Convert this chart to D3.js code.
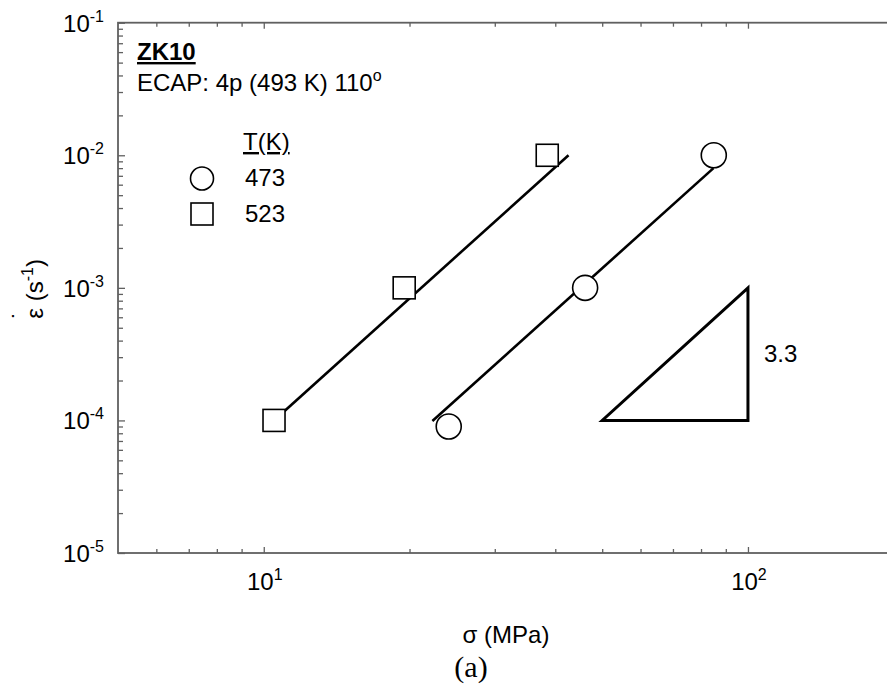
<!DOCTYPE html>
<html>
<head>
<meta charset="utf-8">
<script src="https://cdn.jsdelivr.net/npm/d3@7"></script>
<style>
  body { margin: 0; background: #fff; }
  svg { display: block; font-family: "Liberation Sans", Arial, sans-serif; }
</style>
</head>
<body>
<svg width="887" height="688"></svg>
<script>
// data
const temps = ["473", "523"];
const stress473 = [24.1, 46.1, 85];
const rate473 = [0.9e-4, 1e-3, 1e-2];
const stress523 = [10.5, 19.5, 38.5];
const rate523 = [1e-4, 1e-3, 1e-2];

// fitted lines (end points)
const fitStress473 = [22.3, 84.9];
const fitRate473 = [9.9e-5, 8.0e-3];
const fitStress523 = [10.5, 42.6];
const fitRate523 = [1e-4, 1e-2];

// slope triangle
const triStress = [50, 100, 100];
const triRate = [1e-4, 1e-4, 1e-3];
const slopeLabel = "3.3";

const xMajor = [10, 100];
const xMinor = [6, 7, 8, 9, 20, 30, 40, 50, 60, 70, 80, 90];
const yMajor = [1e-5, 1e-4, 1e-3, 1e-2, 1e-1];
const yExp = ["-5", "-4", "-3", "-2", "-1"];
const xExp = ["1", "2"];

const svg = d3.select("svg");
const axisColor = "#606060";
const fs = 24, sup = 16;

const x = d3.scaleLog().domain([5, 200]).range([118, 118 + 484.2 * Math.log10(40)]);
const y = d3.scaleLog().domain([1e-5, 1e-1]).range([553, 22.7]);

const yMinor = [];
yMajor.slice(0, -1).forEach(d => { for (let k = 2; k <= 9; k++) yMinor.push(d * k); });

// frame
svg.append("rect")
  .attr("x", x.range()[0]).attr("y", y.range()[1])
  .attr("width", x.range()[1] - x.range()[0])
  .attr("height", y.range()[0] - y.range()[1])
  .attr("fill", "none").attr("stroke", axisColor).attr("stroke-width", 1.8);

// ticks (inward)
function ticks(axis, values, size, transform) {
  const g = svg.append("g").attr("transform", transform)
    .call(axis.tickValues(values).tickSize(size).tickFormat(""));
  g.select(".domain").remove();
  g.selectAll("line").attr("stroke", axisColor).attr("stroke-width", 1.3);
}
ticks(d3.axisBottom(x), xMajor, -6, `translate(0,${y.range()[0]})`);
ticks(d3.axisBottom(x), xMinor, -4, `translate(0,${y.range()[0]})`);
ticks(d3.axisTop(x), xMajor, -6, `translate(0,${y.range()[1]})`);
ticks(d3.axisTop(x), xMinor, -4, `translate(0,${y.range()[1]})`);
ticks(d3.axisLeft(y), yMajor, -7, `translate(${x.range()[0]},0)`);
ticks(d3.axisLeft(y), yMinor, -5, `translate(${x.range()[0]},0)`);

// tick labels
const xl = svg.append("g").selectAll("text").data(xMajor).join("text")
  .attr("x", d => x(d) + 1).attr("y", 590)
  .attr("text-anchor", "middle").attr("font-size", fs);
xl.append("tspan").text("10");
xl.append("tspan").attr("dy", -10).attr("font-size", sup).text((d, i) => xExp[i]);

const yl = svg.append("g").selectAll("text").data(yMajor).join("text")
  .attr("x", 104).attr("y", d => y(d) + 9)
  .attr("text-anchor", "end").attr("font-size", fs);
yl.append("tspan").text("10");
yl.append("tspan").attr("dy", -10).attr("font-size", sup).text((d, i) => yExp[i]);

// axis titles
svg.append("text").attr("x", 506).attr("y", 643)
  .attr("text-anchor", "middle").attr("font-size", fs).text("σ (MPa)");

const yt = svg.append("text")
  .attr("transform", "translate(43,289) rotate(-90)")
  .attr("text-anchor", "middle").attr("font-size", fs);
yt.append("tspan").text("ε");
yt.append("tspan").attr("dx", -11).attr("dy", -14).text("\u02D9");
yt.append("tspan").attr("dx", 3).attr("dy", 14).text(" (s");
yt.append("tspan").attr("dy", -10).attr("font-size", sup).text("-1");
yt.append("tspan").attr("dy", 10).text(")");

svg.append("text").attr("x", 471).attr("y", 677)
  .attr("text-anchor", "middle").attr("font-size", 30)
  .attr("font-family", "'Liberation Serif', 'Times New Roman', serif").text("(a)");

// annotations
svg.append("text").attr("x", 137).attr("y", 60).attr("font-size", fs)
  .attr("font-weight", "bold").attr("text-decoration", "underline").text("ZK10");
const ec = svg.append("text").attr("x", 137).attr("y", 91).attr("font-size", fs);
ec.append("tspan").text("ECAP: 4p (493 K) 110");
ec.append("tspan").attr("dy", -10).attr("font-size", sup).text("o");

// fit lines
const line = d3.line().x(d => x(d[0])).y(d => y(d[1]));
[[fitStress473, fitRate473], [fitStress523, fitRate523]].forEach(([s, r]) => {
  svg.append("path").datum(d3.zip(s, r)).attr("d", line)
    .attr("fill", "none").attr("stroke", "#000").attr("stroke-width", 2.6);
});

// slope triangle
svg.append("path").datum(d3.zip(triStress, triRate))
  .attr("d", d => line(d) + "Z")
  .attr("fill", "none").attr("stroke", "#000").attr("stroke-width", 3)
  .attr("stroke-linejoin", "miter");
svg.append("text").attr("x", x(triStress[1]) + 16)
  .attr("y", (y(triRate[1]) + y(triRate[2])) / 2 + 8)
  .attr("font-size", fs).text(slopeLabel);

// markers
svg.append("g").selectAll("circle").data(d3.zip(stress473, rate473)).join("circle")
  .attr("cx", d => x(d[0])).attr("cy", d => y(d[1])).attr("r", 12.5)
  .attr("fill", "#fff").attr("stroke", "#000").attr("stroke-width", 1.6);
svg.append("g").selectAll("rect").data(d3.zip(stress523, rate523)).join("rect")
  .attr("x", d => x(d[0]) - 11).attr("y", d => y(d[1]) - 11)
  .attr("width", 22).attr("height", 22)
  .attr("fill", "#fff").attr("stroke", "#000").attr("stroke-width", 1.6);

// legend
const lg = svg.append("g").attr("transform", "translate(202,0)");
lg.append("text").attr("x", 41).attr("y", 150).attr("font-size", fs)
  .attr("text-decoration", "underline").text("T(K)");
lg.append("circle").attr("cx", 0).attr("cy", 178.5).attr("r", 11.5)
  .attr("fill", "#fff").attr("stroke", "#000").attr("stroke-width", 1.6);
lg.append("rect").attr("x", -11).attr("y", 203).attr("width", 22).attr("height", 22)
  .attr("fill", "#fff").attr("stroke", "#000").attr("stroke-width", 1.6);
lg.selectAll("text.lab").data(temps).join("text").attr("class", "lab")
  .attr("x", 43).attr("y", (d, i) => 186 + i * 36).attr("font-size", fs).text(d => d);
</script>
</body>
</html>
